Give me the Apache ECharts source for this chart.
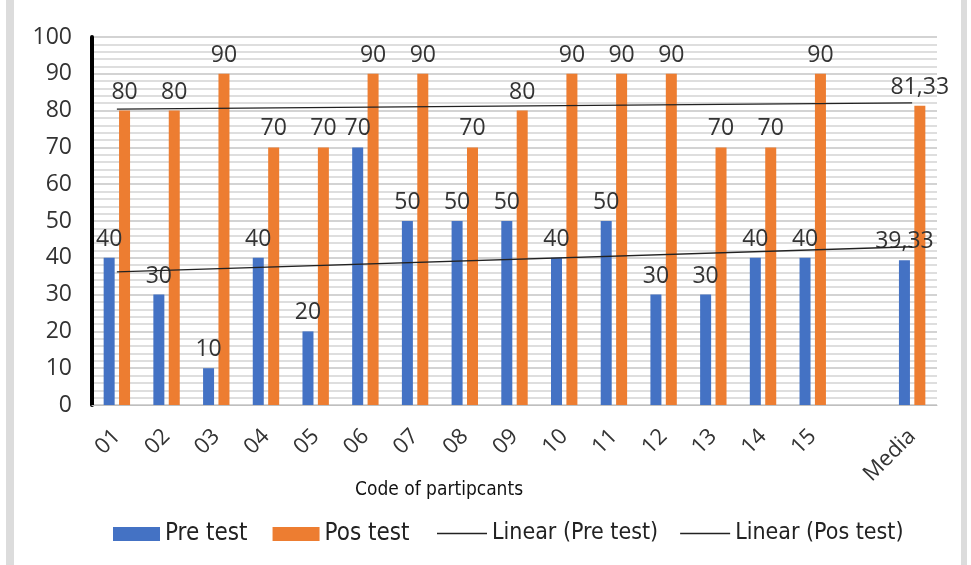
<!DOCTYPE html>
<html><head><meta charset="utf-8">
<script src="https://cdn.jsdelivr.net/npm/echarts@6/dist/echarts.min.js"></script>
<style>html,body{margin:0;padding:0;background:#fff}#c{width:971px;height:565px}</style>
</head><body><div id="c"></div>
<script>
const categories = ['01','02','03','04','05','06','07','08','09','10','11','12','13','14','15','','Media'];
const preTest = [40,30,10,40,20,70,50,50,50,40,50,30,30,40,40,'-',39.33];
const posTest = [80,80,90,70,70,90,90,70,80,90,90,90,70,70,90,'-',81.33];
// trend line end values (at 01 and Media)
const preTrend = [36.2,'-','-','-','-','-','-','-','-','-','-','-','-','-','-','-',43.0];
const posTrend = [80.4,'-','-','-','-','-','-','-','-','-','-','-','-','-','-','-',82.1];
const yTicks = {min:0, max:100, interval:10};

const font = "'Open Sans', 'Noto Sans', sans-serif";
const narrow = "'Liberation Sans Narrow', 'DejaVu Sans Condensed', sans-serif";
const fmt = p => String(p.value).replace('.', ',');
const chart = echarts.init(document.getElementById('c'), null, {renderer:'canvas'});
chart.setOption({
  animation:false,
  grid:{left:92, right:34, top:37, bottom:160, containLabel:false},
  legend:[
    {
      top:517, left:108, itemGap:25, itemWidth:47, itemHeight:14,
      textStyle:{fontFamily:narrow, fontSize:24, color:'#222'},
      data:[{name:'Pre test', icon:'rect'},{name:'Pos test', icon:'rect'}]
    },
    {
      top:517, left:432, itemGap:22, itemWidth:50, itemHeight:1.3,
      textStyle:{fontFamily:narrow, fontSize:23, color:'#222'},
      data:[{name:'Linear (Pre test)', icon:'rect'},{name:'Linear (Pos test)', icon:'rect'}]
    }
  ],
  graphic:[
    {type:'rect', shape:{x:6,y:0,width:8,height:565}, style:{fill:'#dcdcdc'}, silent:true},
    {type:'rect', shape:{x:961,y:0,width:6,height:565}, style:{fill:'#dcdcdc'}, silent:true},
    {type:'text', left:355, top:481, style:{text:'Code of partipcants', fontFamily:narrow, fontSize:19, fill:'#111'}}
  ],
  xAxis:{
    type:'category', data:categories,
    axisLine:{lineStyle:{color:'#bfbfbf', width:1}},
    axisTick:{show:false},
    axisLabel:{rotate:45, fontFamily:font, fontSize:22, color:'#333', margin:28, interval:0}
  },
  yAxis:{
    type:'value', min:yTicks.min, max:yTicks.max, interval:yTicks.interval,
    axisLine:{show:true, lineStyle:{color:'#000', width:4}},
    axisTick:{show:false},
    axisLabel:{fontFamily:font, fontSize:23, color:'#333', margin:20},
    splitLine:{lineStyle:{color:'#c4c4c4', width:1.5}},
    minorTick:{show:false, splitNumber:5},
    minorSplitLine:{show:true, lineStyle:{color:'#d4d4d4', width:1.5}}
  },
  series:[
    {name:'Pre test', type:'bar', data:preTest, barWidth:11, barGap:'40%',
     itemStyle:{color:'#4472C4'},
     label:{show:true, position:'top', distance:7, formatter:fmt, fontFamily:font, fontSize:23, color:'#333'}},
    {name:'Pos test', type:'bar', data:posTest, barWidth:11,
     itemStyle:{color:'#ED7D31'},
     label:{show:true, position:'top', distance:7, formatter:fmt, fontFamily:font, fontSize:23, color:'#333'}},
    {name:'Linear (Pre test)', type:'line', data:preTrend, connectNulls:true, symbol:'none',
     lineStyle:{color:'#222', width:1.3}, itemStyle:{color:'#222'}, z:5},
    {name:'Linear (Pos test)', type:'line', data:posTrend, connectNulls:true, symbol:'none',
     lineStyle:{color:'#222', width:1.3}, itemStyle:{color:'#222'}, z:5}
  ]
});
</script></body></html>
